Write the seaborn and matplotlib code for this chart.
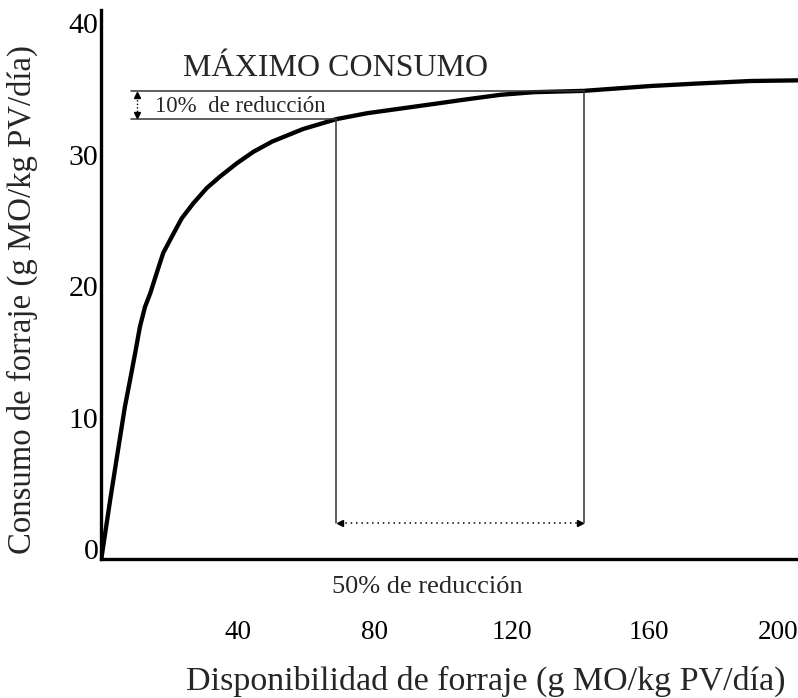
import numpy as np
import pandas as pd
import matplotlib
matplotlib.use("Agg")
import matplotlib.pyplot as plt
import matplotlib.transforms as mtransforms
import seaborn as sns

# Intake response curve: forage allowance vs. forage intake
allowance = [0, 2.6, 4.9, 6.9, 8.4, 9.9, 11.3, 12.8, 14.3, 16.2, 18.1, 20.6,
             23.5, 26.9, 30.8, 34.7, 39.6, 44.5, 50.0, 59.0, 68.7, 77.7, 87.4,
             97.1, 106.9, 116.7, 126.4, 141.0, 160.6, 175.2, 189.8, 203.7]
intake = [0, 4.5, 8.3, 11.58, 13.6, 15.66, 17.67, 19.19, 20.2, 21.75, 23.27,
          24.5, 25.9, 27.05, 28.2, 29.08, 30.09, 30.97, 31.75, 32.7, 33.45,
          33.9, 34.25, 34.6, 34.96, 35.3, 35.5, 35.6, 35.97, 36.17, 36.35, 36.4]

# Reference levels
max_intake = 35.6          # maximum intake
reduced_intake = 33.45     # 10% reduction level
allow_at_max = 141.0       # allowance reaching maximum
allow_at_reduced = 68.7    # allowance at the 10% reduction
span_level = 2.74          # height of the 50% reduction span marker

x_ticks = [40, 80, 120, 160, 200]
y_ticks = [0, 10, 20, 30, 40]

sns.set_style("white")
plt.rcParams["font.family"] = ["Liberation Serif", "DejaVu Serif"]

W, H = 798, 698
fig = plt.figure(figsize=(W / 100, H / 100), dpi=100)
ax = fig.add_axes([101.3 / W, (H - 559) / H, (W - 101.3) / W, (559 - 10) / H])

df = pd.DataFrame({"allowance": allowance, "intake": intake})
sns.lineplot(data=df, x="allowance", y="intake", color="black", lw=3.1,
             ax=ax, estimator=None, sort=False)
ax.lines[-1].set_solid_joinstyle("round")

ax.set_xlim(0, 203.7)
ax.set_ylim(0, 41.75)

# Guide lines for maximum and reduced intake
line_kw = dict(color="#333333", lw=1.1)
ax.plot([8.6, allow_at_max], [max_intake, max_intake], **line_kw)
ax.plot([8.6, allow_at_reduced], [reduced_intake, reduced_intake], **line_kw)
ax.plot([allow_at_reduced, allow_at_reduced], [span_level, reduced_intake], **line_kw)
ax.plot([allow_at_max, allow_at_max], [span_level, max_intake], **line_kw)

# Dotted span between both allowances
ax.plot([allow_at_reduced + 1.2, allow_at_max - 1.2], [span_level, span_level],
        color="black", lw=1.1, ls=(0, (1, 2.5)))
ax.plot([allow_at_reduced + 1.0], [span_level], marker="<", ms=5, color="black")
ax.plot([allow_at_max - 1.0], [span_level], marker=">", ms=5, color="black")

# Small dotted double arrow for the 10% band
ax.plot([10.4, 10.4], [reduced_intake + 0.35, max_intake - 0.35],
        color="black", lw=1.0, ls=(0, (1, 1.5)))
ax.plot([10.4], [max_intake - 0.35], marker="^", ms=4, color="black")
ax.plot([10.4], [reduced_intake + 0.35], marker="v", ms=4, color="black")

ax.text(23.9, 36.7, "MÁXIMO CONSUMO", fontsize=23, va="baseline", ha="left")
ax.text(15.7, 34.0, "10%  de reducción", fontsize=16.5, va="baseline", ha="left")
ax.text(95.3, -2.13, "50% de reducción", fontsize=19, va="center", ha="center",
        clip_on=False)

# Axes styling
for side in ["top", "right"]:
    ax.spines[side].set_visible(False)
for side in ["left", "bottom"]:
    ax.spines[side].set_linewidth(2.4)
    ax.spines[side].set_color("black")

ax.set_xticks(x_ticks)
ax.set_xticklabels([str(v) for v in x_ticks])
ax.set_yticks(y_ticks)
ax.set_yticklabels([str(v) for v in y_ticks])
ax.tick_params(axis="x", direction="in", length=6, width=2.2, pad=44,
               labelsize=19.5, colors="black")
ax.tick_params(axis="y", direction="in", length=6, width=2.2, pad=2,
               labelsize=21.5, colors="black")
for lbl in ax.get_yticklabels():
    lbl.set_verticalalignment("baseline")
# keep the last x label inside the figure edge
last = ax.get_xticklabels()[-1]
last.set_transform(last.get_transform() +
                   mtransforms.ScaledTranslation(-7 / 100, 0, fig.dpi_scale_trans))
ax.set_xlabel("")
ax.set_ylabel("")

fig.text(485.5 / W, 1 - 681 / H, "Disponibilidad de forraje (g MO/kg PV/día)",
         fontsize=24.5, ha="center", va="center")
fig.text(22 / W, 1 - 299 / H, "Consumo de forraje (g MO/kg PV/día)",
         fontsize=23.6, ha="center", va="center", rotation=90)

fig.savefig("out.png", dpi=100, facecolor="white")
